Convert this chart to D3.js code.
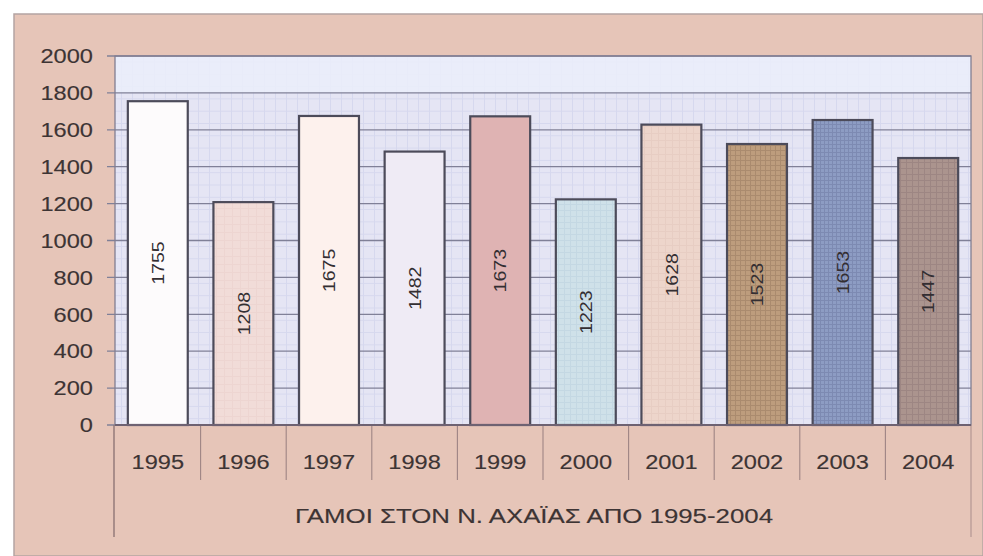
<!DOCTYPE html>
<html>
<head>
<meta charset="utf-8">
<script src="https://cdn.jsdelivr.net/npm/d3@7"></script>
<style>
  html, body { margin: 0; padding: 0; background: #ffffff; }
  svg { display: block; }
  text { font-family: Arial, "Liberation Sans", sans-serif; }
</style>
</head>
<body>
<svg id="chart" width="983" height="556"></svg>
<script>
// ---- data ----
const years = ["1995", "1996", "1997", "1998", "1999", "2000", "2001", "2002", "2003", "2004"];
const marriages = [1755, 1208, 1675, 1482, 1673, 1223, 1628, 1523, 1653, 1447];
const yTickValues = [0, 200, 400, 600, 800, 1000, 1200, 1400, 1600, 1800, 2000];
const chartTitle = "ΓΑΜΟΙ ΣΤΟΝ Ν. ΑΧΑΪΑΣ ΑΠΟ 1995-2004";

// ---- styles ----
const barFills = ["#fdfbfc", "#f1dcd8", "#fdf1ed", "#efebf5", "#dfb3b3", "#cfe1e9", "#edd5cb", "#bd9d7d", "#8d9cc3", "#ab948e"];
const textColor = "#3d3434";

const svg = d3.select("#chart");
const W = 983, H = 556;
const plot = { left: 115, right: 971, top: 56, bottom: 425 };

const x = d3.scaleBand().domain(years).range([plot.left, plot.right]).paddingInner(0.3).paddingOuter(0.15);
const y = d3.scaleLinear().domain([0, 2000]).range([plot.bottom, plot.top]);

// ---- patterns ----
const defs = svg.append("defs");
const fine = defs.append("pattern").attr("id", "fineGrid").attr("patternUnits", "userSpaceOnUse")
  .attr("width", 11).attr("height", 12.3);
fine.append("rect").attr("width", 11).attr("height", 12.3).attr("fill", "#e5e5f4");
fine.append("path").attr("d", "M0 0.5 H11 M0.5 0 V12.3").attr("stroke", "#d6d8ee").attr("stroke-width", 1);

function texture(id, base, lines, step) {
  const p = defs.append("pattern").attr("id", id).attr("patternUnits", "userSpaceOnUse")
    .attr("width", step).attr("height", step);
  p.append("rect").attr("width", step).attr("height", step).attr("fill", base);
  p.append("path").attr("d", `M0 0.5 H${step} M0.5 0 V${step}`).attr("stroke", lines).attr("stroke-width", 1).attr("opacity", 0.55);
  return `url(#${id})`;
}
const fills = barFills.slice();
fills[7] = texture("tex2002", barFills[7], "#9a7c62", 5);
fills[8] = texture("tex2003", barFills[8], "#6e7ca3", 4);
fills[9] = texture("tex2004", barFills[9], "#92797a", 6);
fills[1] = texture("tex1996", barFills[1], "#ead0cc", 8);
fills[6] = texture("tex2001", barFills[6], "#e2c6bc", 7);
fills[5] = texture("tex2000", barFills[5], "#bcd2de", 6);

// ---- background ----
svg.append("rect").attr("x", 14).attr("y", 14).attr("width", W - 14).attr("height", H - 14)
  .attr("fill", "#e6c5b8").attr("stroke", "#b4a4a2").attr("stroke-width", 1.5);

// plot area
svg.append("rect").attr("x", plot.left).attr("y", plot.top)
  .attr("width", plot.right - plot.left).attr("height", plot.bottom - plot.top)
  .attr("fill", "url(#fineGrid)");
svg.append("rect").attr("x", plot.left).attr("y", y(2000))
  .attr("width", plot.right - plot.left).attr("height", y(1800) - y(2000))
  .attr("fill", "#ebeffa").attr("opacity", 0.85);

// gridlines with outer ticks
svg.append("g").selectAll("line").data(yTickValues).join("line")
  .attr("x1", plot.left - 8).attr("x2", plot.right)
  .attr("y1", d => y(d)).attr("y2", d => y(d))
  .attr("stroke", "#808097").attr("stroke-width", 1.3);

// plot frame
svg.append("rect").attr("x", plot.left).attr("y", plot.top)
  .attr("width", plot.right - plot.left).attr("height", plot.bottom - plot.top)
  .attr("fill", "none").attr("stroke", "#827e92").attr("stroke-width", 1.3);

// category area lines
svg.append("line").attr("x1", plot.left - 1).attr("x2", plot.left - 1).attr("y1", plot.bottom).attr("y2", 537)
  .attr("stroke", "#8f7676").attr("stroke-width", 1.4);
svg.append("line").attr("x1", plot.right).attr("x2", plot.right).attr("y1", plot.bottom).attr("y2", 537)
  .attr("stroke", "#ae9290").attr("stroke-width", 1.1);
svg.append("g").selectAll("line").data(years.slice(1)).join("line")
  .attr("x1", d => x(d) - x.step() * x.paddingInner() / 2)
  .attr("x2", d => x(d) - x.step() * x.paddingInner() / 2)
  .attr("y1", plot.bottom).attr("y2", 480)
  .attr("stroke", "#9e8484").attr("stroke-width", 1.1);

// ---- bars ----
svg.append("g").selectAll("rect").data(years).join("rect")
  .attr("x", d => x(d))
  .attr("y", (d, i) => y(marriages[i]))
  .attr("width", x.bandwidth())
  .attr("height", (d, i) => y(0) - y(marriages[i]))
  .attr("fill", (d, i) => fills[i])
  .attr("stroke", "#4c4b5a").attr("stroke-width", 2.2);

// axis baseline
svg.append("line").attr("x1", plot.left).attr("x2", plot.right).attr("y1", plot.bottom).attr("y2", plot.bottom)
  .attr("stroke", "#6e6272").attr("stroke-width", 1.8);

function stretch(sel, k) {
  sel.each(function () {
    const len = this.getComputedTextLength();
    d3.select(this).attr("textLength", len * k).attr("lengthAdjust", "spacingAndGlyphs");
  });
}

// bar labels (rotated, centred in bar)
const lab = svg.append("g").selectAll("text").data(years).join("text")
  .attr("transform", (d, i) => `translate(${x(d) + x.bandwidth() / 2},${(y(marriages[i]) + y(0)) / 2}) rotate(-90)`)
  .attr("text-anchor", "middle").attr("dy", "0.36em")
  .attr("font-size", 17).attr("fill", "#332e32")
  .text((d, i) => marriages[i]);
stretch(lab, 1.15);

// y tick labels
const yl = svg.append("g").selectAll("text").data(yTickValues).join("text")
  .attr("x", 93).attr("y", d => y(d)).attr("dy", "0.36em")
  .attr("text-anchor", "end").attr("font-size", 20).attr("fill", textColor)
  .attr("stroke", textColor).attr("stroke-width", 0.15)
  .text(d => d);
stretch(yl, 1.18);

// x tick labels
const xl = svg.append("g").selectAll("text").data(years).join("text")
  .attr("x", d => x(d) + x.bandwidth() / 2).attr("y", 462).attr("dy", "0.36em")
  .attr("text-anchor", "middle").attr("font-size", 20).attr("fill", textColor)
  .attr("stroke", textColor).attr("stroke-width", 0.15)
  .text(d => d);
stretch(xl, 1.18);

// title
const t = svg.append("text").attr("x", 534).attr("y", 516).attr("dy", "0.36em")
  .attr("text-anchor", "middle").attr("font-size", 20).attr("fill", textColor)
  .attr("stroke", textColor).attr("stroke-width", 0.15)
  .text(chartTitle);
t.attr("textLength", 478).attr("lengthAdjust", "spacingAndGlyphs");
</script>
</body>
</html>
